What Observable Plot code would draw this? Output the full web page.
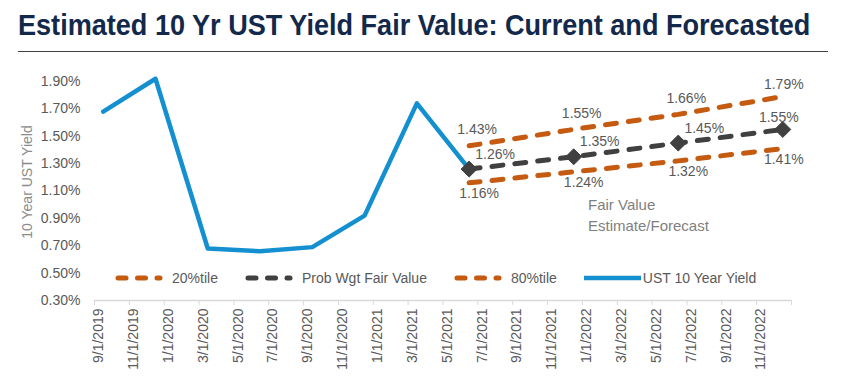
<!DOCTYPE html>
<html><head><meta charset="utf-8">
<script src="https://cdn.jsdelivr.net/npm/d3@7"></script>
<script src="https://cdn.jsdelivr.net/npm/@observablehq/plot@0.6"></script>
<style>
body{margin:0;background:#fff;font-family:"Liberation Sans",Arial,sans-serif;}
#wrap{position:relative;width:859px;height:379px;overflow:hidden;background:#fff}
#title{position:absolute;left:18px;top:10px;font-family:"Liberation Sans",Arial,sans-serif;font-weight:bold;font-size:29.5px;line-height:29px;color:#13294b;white-space:nowrap;transform-origin:0 0}
#rule{position:absolute;left:18px;top:51px;width:810px;height:1px;background:#404040}
#chart{position:absolute;left:0;top:56px}
#ytitle{position:absolute;left:27px;top:182px;transform:translate(-50%,-50%) rotate(-90deg);font-size:14px;color:#8c8c8c;white-space:nowrap}
#note{position:absolute;left:588px;top:194px;font-size:15px;line-height:21px;color:#7f7f7f}
#legend{position:absolute;left:115px;top:269px;height:18px;display:flex;align-items:center;font-size:14px;color:#595959;white-space:nowrap}
#legend .item{display:flex;align-items:center;margin-right:27px}
</style></head>
<body>
<div id="wrap">
  <div id="title">Estimated 10 Yr UST Yield Fair Value: Current and Forecasted</div>
  <div id="rule"></div>
  <div id="chart"></div>
  <div id="ytitle">10 Year UST Yield</div>
  <div id="note">Fair Value<br>Estimate/Forecast</div>
  <div id="legend"></div>
</div>
<script>
// ---- data ----
const ustDates = ["9/1/2019","12/1/2019","3/1/2020","6/1/2020","9/1/2020","12/1/2020","3/1/2021","6/1/2021"];
const ustYield = [1.68, 1.92, 0.68, 0.66, 0.69, 0.92, 1.74, 1.26];
const fcDates = ["6/1/2021","12/1/2021","6/1/2022","12/1/2022"];
const pct20 = [1.16, 1.24, 1.32, 1.41];
const probWgt = [1.26, 1.35, 1.45, 1.55];
const pct80 = [1.43, 1.55, 1.66, 1.79];
const xTickLabels = ["9/1/2019","11/1/2019","1/1/2020","3/1/2020","5/1/2020","7/1/2020","9/1/2020","11/1/2020","1/1/2021","3/1/2021","5/1/2021","7/1/2021","9/1/2021","11/1/2021","1/1/2022","3/1/2022","5/1/2022","7/1/2022","9/1/2022","11/1/2022"];
const yTicks = [0.3, 0.5, 0.7, 0.9, 1.1, 1.3, 1.5, 1.7, 1.9];
const seriesNames = ["20%tile","Prob Wgt Fair Value","80%tile","UST 10 Year Yield"];

// ---- styles ----
const ORANGE = "#c55a11", DARK = "#404040", BLUE = "#1490d0", TEXT = "#595959";
const seriesColors = [ORANGE, DARK, ORANGE, BLUE];
const seriesDashed = [true, true, true, false];

// condensed title: fit to the reference width
const title = document.getElementById("title");
title.style.transform = `scaleX(${792 / title.offsetWidth})`;

const monthIndex = s => { const [m, d, y] = s.split("/").map(Number); return (y - 2019) * 12 + (m - 9); };
const ust = ustDates.map((d, i) => ({x: monthIndex(d), y: ustYield[i]}));
const fc = arr => fcDates.map((d, i) => ({x: monthIndex(d), y: arr[i], last: i === fcDates.length - 1}));
const lo = fc(pct20), mid = fc(probWgt), hi = fc(pct80);
const labelPos = xTickLabels.map(monthIndex);
const boundaries = labelPos.map(i => i - 0.5).concat([labelPos[labelPos.length - 1] + 1.5]);
const fmt = v => v.toFixed(2) + "%";

const dashLine = (data, color) => Plot.line(data, {x: "x", y: "y", stroke: color, strokeWidth: 5, strokeDasharray: "11,12", strokeLinecap: "round"});
const labels = (data, dxA, dyA, dxL, dyL) => [
  Plot.text(data.filter(d => !d.last), {x: "x", y: "y", text: d => fmt(d.y), dx: dxA, dy: dyA, fill: TEXT, fontSize: 14}),
  Plot.text(data.filter(d => d.last), {x: "x", y: "y", text: d => fmt(d.y), dx: dxL, dy: dyL, fill: TEXT, fontSize: 14})
];

const chart = Plot.plot({
  width: 859, height: 323,
  marginLeft: 94, marginRight: 68, marginTop: 25, marginBottom: 79,
  style: {fontFamily: '"Liberation Sans", Arial, sans-serif', fontSize: "14px", color: TEXT, background: "transparent"},
  x: {type: "linear", domain: [boundaries[0], boundaries[boundaries.length - 1]]},
  y: {domain: [0.3, 1.9]},
  marks: [
    Plot.axisY({ticks: yTicks, tickSize: 0, tickPadding: 14, tickFormat: fmt, fontSize: 14, label: null}),
    Plot.ruleY([0.3], {stroke: "#d9d9d9", strokeWidth: 1.3}),
    Plot.axisX({ticks: boundaries, tickSize: 5, tickFormat: () => "", stroke: "#d9d9d9", label: null}),
    Plot.text(labelPos, {x: d => d, text: (d, i) => xTickLabels[i], frameAnchor: "bottom", rotate: -90, textAnchor: "end", dy: 8, fontSize: 14, fill: TEXT}),
    dashLine(lo, ORANGE),
    dashLine(hi, ORANGE),
    dashLine(mid, DARK),
    Plot.line(ust, {x: "x", y: "y", stroke: BLUE, strokeWidth: 4.5, strokeLinejoin: "round"}),
    Plot.dot(mid, {x: "x", y: "y", symbol: "diamond2", r: 7.2, fill: DARK, stroke: DARK, strokeWidth: 1}),
    ...labels(hi, 8, -16, 1, -12),
    ...labels(mid, 26, -15, -4, -12),
    ...labels(lo, 10, 11, 1, 11)
  ]
});
document.getElementById("chart").appendChild(chart);

// legend
const leg = document.getElementById("legend");
seriesNames.forEach((name, i) => {
  const item = document.createElement("div");
  item.className = "item";
  const w = seriesDashed[i] ? 48 : 57;
  const ns = "http://www.w3.org/2000/svg";
  const svg = document.createElementNS(ns, "svg");
  svg.setAttribute("width", w); svg.setAttribute("height", 10);
  const ln = document.createElementNS(ns, "line");
  ln.setAttribute("x1", seriesDashed[i] ? 3 : 0); ln.setAttribute("x2", seriesDashed[i] ? w - 3 : w);
  ln.setAttribute("y1", 5); ln.setAttribute("y2", 5);
  ln.setAttribute("stroke", seriesColors[i]);
  ln.setAttribute("stroke-width", seriesDashed[i] ? 5 : 4.5);
  if (seriesDashed[i]) { ln.setAttribute("stroke-dasharray", "8,11.5"); ln.setAttribute("stroke-linecap", "round"); }
  svg.appendChild(ln);
  const t = document.createElement("span");
  t.textContent = name;
  t.style.marginLeft = seriesDashed[i] ? "9px" : "2px";
  item.appendChild(svg); item.appendChild(t);
  leg.appendChild(item);
});
</script>
</body></html>
